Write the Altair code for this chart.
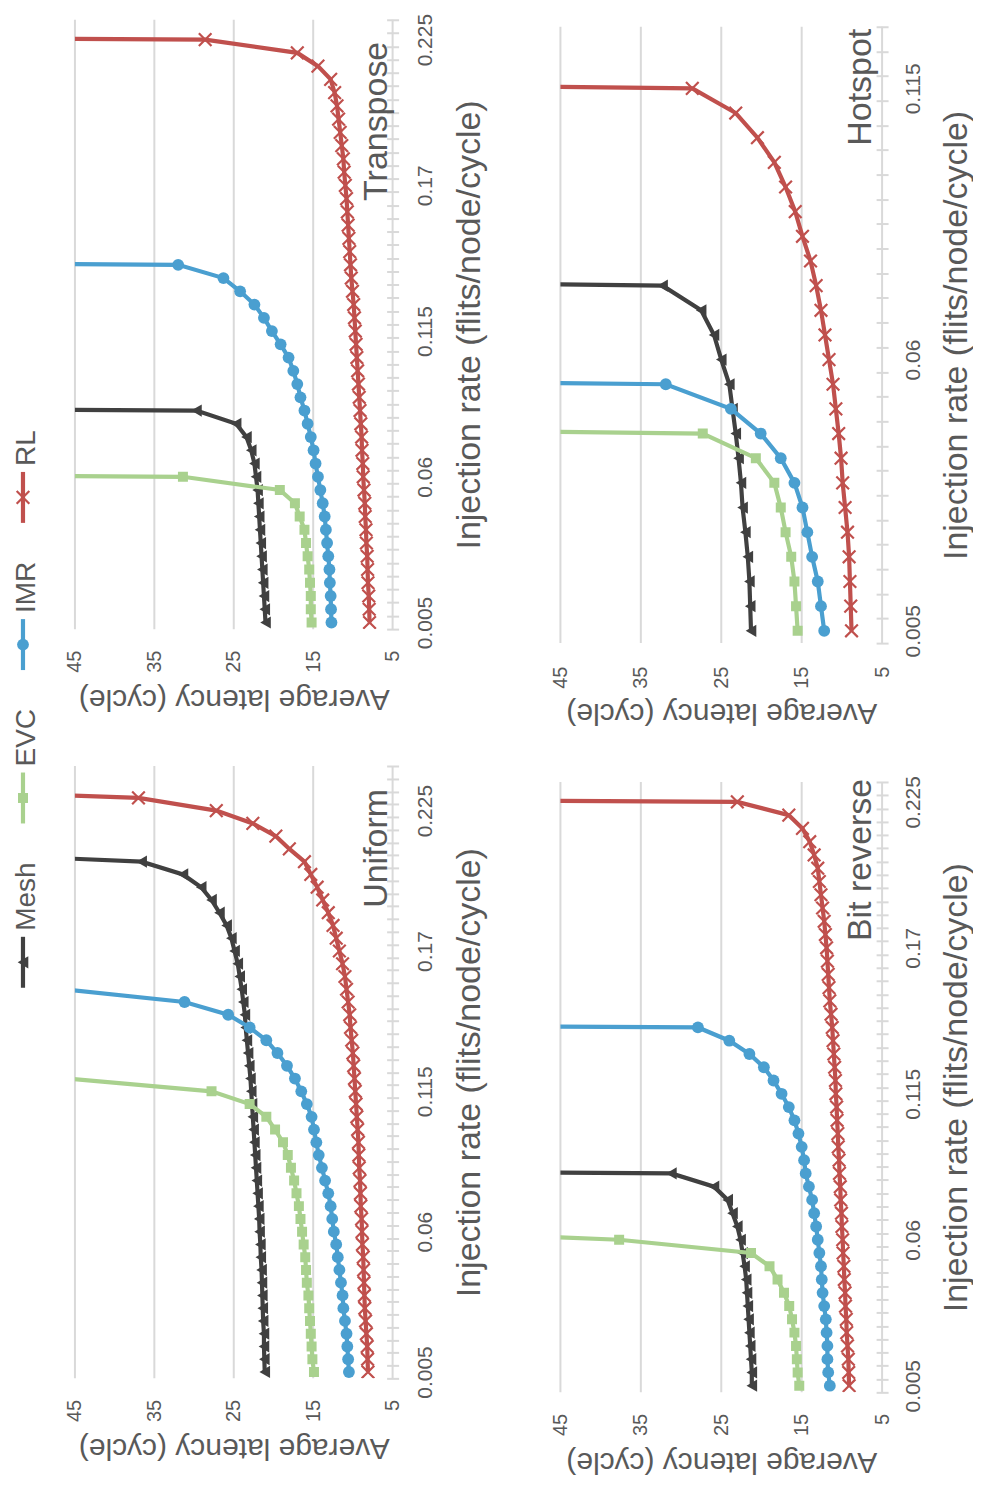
import altair as alt
import pandas as pd

# ---------------- data ----------------
RATES = [0.005, 0.01, 0.015, 0.02, 0.025, 0.03, 0.035, 0.04, 0.045, 0.05,
         0.055, 0.06, 0.065, 0.07, 0.075, 0.08, 0.085, 0.09, 0.095, 0.1,
         0.105, 0.11, 0.115, 0.12, 0.125, 0.13, 0.135, 0.14, 0.145, 0.15,
         0.155, 0.16, 0.165, 0.17, 0.175, 0.18, 0.185, 0.19, 0.195, 0.2,
         0.205, 0.21, 0.215, 0.22, 0.225, 0.23, 0.235, 0.24]
TICK_LABELS = ["0.005", "0.06", "0.115", "0.17", "0.225"]
LATENCY_TICKS = [5, 15, 25, 35, 45]
SERIES = ["Mesh", "EVC", "IMR", "RL"]

TRANSPOSE_MESH = [21.0, 21.1, 21.2, 21.3, 21.4, 21.5, 21.6, 21.7, 21.8, 21.9, 22.0, 22.2, 22.4, 22.8,
                  23.4, 24.7, 29.7, 300]
TRANSPOSE_EVC = [15.2, 15.3, 15.3, 15.4, 15.5, 15.7, 15.9, 16.1, 16.7, 17.3, 19.2, 31.4, 300]
TRANSPOSE_IMR = [12.7, 12.75, 12.8, 12.9, 12.95, 13.1, 13.25, 13.4, 13.55, 13.8, 14.1, 14.4, 14.7,
                 14.95, 15.3, 15.7, 16.1, 16.6, 17.0, 17.5, 18.1, 19.1, 20.2, 21.2, 22.4, 24.2, 26.3,
                 32.0, 300]
TRANSPOSE_RL = [7.9, 7.95, 8.0, 8.1, 8.15, 8.2, 8.3, 8.35, 8.45, 8.5, 8.6, 8.7, 8.75, 8.85, 8.9, 9.0,
                9.1, 9.2, 9.3, 9.4, 9.5, 9.6, 9.7, 9.8, 9.9, 10.05, 10.2, 10.3, 10.4, 10.5, 10.6, 10.7,
                10.8, 10.95, 11.1, 11.2, 11.4, 11.6, 11.8, 12.0, 12.3, 12.8, 14.4, 17.0, 28.6, 300]

UNIFORM_MESH = [21.1, 21.15, 21.2, 21.2, 21.3, 21.35, 21.4, 21.45, 21.5, 21.6, 21.65, 21.75, 21.8,
                21.9, 22.0, 22.1, 22.2, 22.3, 22.4, 22.5, 22.6, 22.7, 22.8, 22.9, 23.05, 23.2, 23.35,
                23.5, 23.6, 23.8, 24.0, 24.25, 24.5, 24.9, 25.3, 25.9, 26.8, 27.8, 29.1, 31.4, 36.6, 74]
UNIFORM_EVC = [14.9, 15.1, 15.2, 15.3, 15.4, 15.5, 15.6, 15.8, 15.9, 16.0, 16.2, 16.4, 16.6, 16.8,
               17.1, 17.4, 17.8, 18.2, 18.8, 19.8, 20.9, 23.0, 27.8, 46]
UNIFORM_IMR = [10.5, 10.6, 10.7, 10.8, 11.0, 11.2, 11.3, 11.5, 11.7, 11.9, 12.1, 12.4, 12.6, 12.8,
               13.1, 13.5, 13.9, 14.3, 14.6, 14.9, 15.2, 15.8, 16.5, 17.3, 18.3, 19.5, 20.9, 23.0,
               25.7, 31.2, 46.5]
UNIFORM_RL = [8.1, 8.15, 8.2, 8.3, 8.4, 8.5, 8.55, 8.6, 8.65, 8.7, 8.8, 8.85, 8.9, 9.0, 9.05, 9.1,
              9.2, 9.25, 9.3, 9.4, 9.5, 9.6, 9.7, 9.8, 9.9, 10.0, 10.15, 10.3, 10.4, 10.6, 10.8, 11.0,
              11.3, 11.7, 12.1, 12.5, 13.1, 13.8, 14.5, 15.3, 16.1, 18.0, 19.7, 22.6, 27.2, 37.0, 81]

HOTSPOT_MESH = [21.3, 21.4, 21.5, 21.7, 22.0, 22.35, 22.55, 22.85, 23.2, 23.6, 24.0, 25.0, 25.9, 27.5,
                32.3, 300]
HOTSPOT_EVC = [15.5, 15.7, 15.9, 16.3, 17.0, 17.6, 18.4, 20.7, 27.3, 300]
HOTSPOT_IMR = [12.2, 12.6, 13.0, 13.7, 14.3, 14.9, 15.9, 17.6, 20.1, 23.8, 31.9, 300]
HOTSPOT_RL = [8.8, 8.9, 9.0, 9.1, 9.3, 9.6, 9.9, 10.1, 10.4, 10.75, 11.1, 11.6, 12.1, 12.6, 13.2,
              13.9, 14.9, 15.8, 17.0, 18.4, 20.5, 23.2, 28.6, 300]

BITREV_MESH = [21.2, 21.2, 21.3, 21.4, 21.5, 21.6, 21.7, 21.8, 21.9, 22.1, 22.35, 22.6, 23.0, 23.6,
               24.2, 25.9, 31.2, 300]
BITREV_EVC = [15.3, 15.5, 15.6, 15.7, 15.9, 16.2, 16.55, 17.2, 18.0, 19.0, 21.3, 37.7, 78]
BITREV_IMR = [11.5, 11.7, 11.8, 11.8, 11.9, 12.0, 12.2, 12.4, 12.5, 12.6, 12.8, 13.0, 13.2, 13.45,
              13.7, 14.1, 14.5, 14.7, 15.0, 15.4, 15.9, 16.6, 17.5, 18.5, 19.7, 21.5, 24.0, 27.9, 300]
BITREV_RL = [9.1, 9.15, 9.2, 9.3, 9.4, 9.45, 9.55, 9.6, 9.7, 9.75, 9.85, 9.9, 10.0, 10.05, 10.15,
             10.2, 10.3, 10.35, 10.45, 10.5, 10.6, 10.65, 10.75, 10.8, 10.9, 11.0, 11.1, 11.2, 11.35,
             11.5, 11.6, 11.7, 11.8, 11.9, 12.05, 12.2, 12.4, 12.6, 12.8, 13.0, 13.45, 14.0, 14.9,
             16.6, 23.0, 300]

# ---------------- style ----------------
COLORS = {"Mesh": "#404040", "EVC": "#A9D18E", "IMR": "#4A9FD0", "RL": "#C0504D"}
XPATH = "M-1,-1L1,1M1,-1L-1,1"
MARKS = {"Mesh": dict(shape="triangle-left", size=150, filled=True),
         "EVC": dict(shape="square", size=100, filled=True),
         "IMR": dict(shape="circle", size=140, filled=True),
         "RL": dict(shape=XPATH, size=160, filled=False, strokeWidth=2.2)}
TXT = "#595959"
GRID = "#D9D9D9"
FONT = "Liberation Sans"
LINE_W = 4.2


def panel(name, series_vals, n_cat, width, height, top_extra, pad_bottom, pad_right,
          title_x, name_pos):
    cat_px = (height - top_extra) / n_cat
    lo = 0.0025
    real_top = 0.0025 + 0.005 * n_cat
    y_max = real_top + top_extra / cat_px * 0.005
    xs = alt.Scale(domain=[5, 45], reverse=True, nice=False, zero=False)
    ys = alt.Scale(domain=[lo, y_max], nice=False, zero=False)
    bounds = [round(0.0025 + 0.005 * k, 4) for k in range(n_cat + 1)]
    expr = "''"
    for lab in reversed(TICK_LABELS):
        b = float(lab) - 0.0025
        if b < real_top:
            expr = f"abs(datum.value - {b:.4f}) < 0.0001 ? '{lab}' : " + expr

    x_axis = alt.Axis(values=LATENCY_TICKS, orient="bottom", grid=False,
                      ticks=False, tickSize=0, domain=False, labelAngle=270,
                      labelPadding=pad_bottom, labelFontSize=20, labelColor=TXT, labelFont=FONT,
                      labelOverlap=False, labelFlush=False,
                      title="Average latency (cycle)", titleAngle=180, titleFontSize=30,
                      titleFontWeight="normal", titleColor=TXT, titleFont=FONT,
                      titleX=width / 2, titleY=60, titleAlign="center",
                      titleBaseline="alphabetic")
    y_axis = alt.Axis(values=bounds, orient="right", grid=False, domain=False, ticks=True,
                      tickSize=12, tickColor=GRID, tickWidth=2, offset=-6, labelExpr=expr,
                      labelAngle=270, labelAlign="center", labelBaseline="top",
                      labelOffset=-cat_px / 2, labelPadding=pad_right, labelFontSize=21,
                      labelColor=TXT, labelFont=FONT, labelOverlap=False, labelFlush=False,
                      labelBound=False,
                      title="Injection rate (flits/node/cycle)", titleAngle=270, titleFontSize=34,
                      titleFontWeight="normal", titleColor=TXT, titleFont=FONT, titleX=title_x,
                      titleY=(top_extra + height) / 2, titleAlign="center",
                      titleBaseline="alphabetic")

    # gridlines (and the category-axis line at latency 5) spanning the real axis extent
    grid_df = pd.DataFrame({"latency": LATENCY_TICKS,
                            "r0": [lo] * len(LATENCY_TICKS),
                            "r1": [real_top] * len(LATENCY_TICKS)})
    layers = [alt.Chart(grid_df).mark_rule(color=GRID, strokeWidth=2).encode(
        x=alt.X("latency:Q", scale=xs, axis=x_axis),
        y=alt.Y("r0:Q", scale=ys, axis=y_axis), y2="r1:Q")]

    rows = []
    for s, vals in zip(SERIES, series_vals):
        for i, v in enumerate(vals):
            rows.append({"series": s, "rate": RATES[i], "latency": v})
    df = pd.DataFrame(rows)
    base = alt.Chart(df).encode(
        x=alt.X("latency:Q", scale=xs, axis=x_axis),
        y=alt.Y("rate:Q", scale=ys, axis=y_axis),
        order=alt.Order("rate:Q"),
    )
    for s in SERIES:
        sub = base.transform_filter(alt.datum.series == s)
        layers.append(sub.mark_line(color=COLORS[s], strokeWidth=LINE_W, clip=True))
        layers.append(sub.mark_point(color=COLORS[s], opacity=1, clip=True, **MARKS[s]))
    name_df = pd.DataFrame({"latency": [name_pos[0]], "rate": [name_pos[1]], "label": [name]})
    layers.append(
        alt.Chart(name_df).mark_text(angle=270, align="right", baseline="alphabetic",
                                     fontSize=34, color=TXT, font=FONT).encode(
            x=alt.X("latency:Q", scale=xs, axis=x_axis),
            y=alt.Y("rate:Q", scale=ys, axis=y_axis),
            text="label:N")
    )
    return alt.layer(*layers).properties(width=width, height=height)


A = panel("Transpose", [TRANSPOSE_MESH, TRANSPOSE_EVC, TRANSPOSE_IMR, TRANSPOSE_RL],
          46, 318, 610, 0, 21, 16, 93, (5.65, 0.2242))
C = panel("Hotspot", [HOTSPOT_MESH, HOTSPOT_EVC, HOTSPOT_IMR, HOTSPOT_RL],
          25, 322, 624, 7, 23, 14, 90, (6.4, 0.1271))
B = panel("Uniform", [UNIFORM_MESH, UNIFORM_EVC, UNIFORM_IMR, UNIFORM_RL],
          48, 318, 613, 0, 21, 16, 93, (5.65, 0.2335))
D = panel("Bit reverse", [BITREV_MESH, BITREV_EVC, BITREV_IMR, BITREV_RL],
          46, 322, 627, 16, 21, 14, 90, (6.4, 0.2337))

# ---------------- legend (rotated, built from marks) ----------------
LEG_W, LEG_H = 50, 1374
LEG_FS = 28
CHAR_EM = {"M": .833, "e": .556, "s": .5, "h": .556, "E": .667, "V": .667, "C": .722,
           "I": .278, "R": .722, "L": .556}
leg_rows = []
y = 969
for s in SERIES:
    y_bot, y_top = y, y - 51
    t_start = y_top - 6
    t_len = sum(CHAR_EM[c] for c in s) * LEG_FS
    leg_rows.append(dict(series=s, lx=15, y1=y_top, y2=y_bot, ym=(y_top + y_bot) / 2,
                         tx=27, ty=t_start))
    y = t_start - t_len - 39
leg_df = pd.DataFrame(leg_rows)
lxs = alt.Scale(domain=[0, LEG_W], nice=False, zero=False)
lys = alt.Scale(domain=[0, LEG_H], reverse=True, nice=False, zero=False)
leg_layers = []
for s in SERIES:
    ld = alt.Chart(leg_df).transform_filter(alt.datum.series == s)
    leg_layers.append(ld.mark_rule(color=COLORS[s], strokeWidth=LINE_W).encode(
        x=alt.X("lx:Q", scale=lxs, axis=None), y=alt.Y("y1:Q", scale=lys, axis=None), y2="y2:Q"))
    leg_layers.append(ld.mark_point(color=COLORS[s], opacity=1, **MARKS[s]).encode(
        x=alt.X("lx:Q", scale=lxs, axis=None), y=alt.Y("ym:Q", scale=lys, axis=None)))
    leg_layers.append(ld.mark_text(angle=270, align="left", baseline="alphabetic",
                                   fontSize=LEG_FS, color=TXT, font=FONT).encode(
        x=alt.X("tx:Q", scale=lxs, axis=None), y=alt.Y("ty:Q", scale=lys, axis=None),
        text="series:N"))
legend = alt.layer(*leg_layers).properties(width=LEG_W, height=LEG_H)

grid = alt.concat(A, C, B, D, columns=2, spacing={"row": 123, "column": 168}, bounds="flush")
chart = (alt.hconcat(legend, grid, spacing=17, bounds="flush")
         .properties(padding={"left": 0, "top": 4, "right": 0, "bottom": 24})
         .configure(font=FONT)
         .configure_view(stroke=None))

chart.save("out.html", embed_options={"renderer": "svg", "actions": False})
